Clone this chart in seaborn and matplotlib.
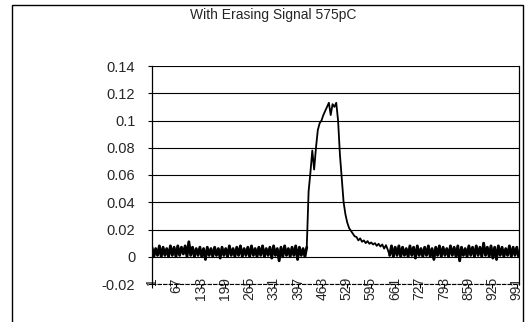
import matplotlib
matplotlib.use("Agg")
import matplotlib.pyplot as plt
import numpy as np
import seaborn as sns
from matplotlib.patches import Rectangle

# trace, one value every 5th sample (samples 1, 6, 11, ...)
baseline_before = [
    0.007, 0.000, 0.006, 0.001, 0.008, 0.000, 0.007, 0.001, 0.006, 0.000,
    0.008, 0.001, 0.007, 0.000, 0.008, 0.001, 0.007, 0.002, 0.008, 0.000,
    0.011, 0.001, 0.007, 0.000, 0.006, 0.001, 0.007, 0.000, 0.006, -0.002,
    0.007, 0.001, 0.006, 0.000, 0.007, 0.001, 0.006, -0.001, 0.007, 0.001,
    0.006, 0.000, 0.008, 0.001, 0.006, 0.000, 0.007, 0.001, 0.008, 0.000,
    0.006, 0.001, 0.007, 0.000, 0.008, 0.001, 0.006, 0.000, 0.007, 0.001,
    0.008, 0.000, 0.006, 0.001, 0.007, -0.001, 0.008, 0.001, 0.006, -0.003,
    0.007, 0.000, 0.008, 0.001, 0.006, 0.000, 0.007, 0.001, 0.008, -0.002,
    0.007, 0.001, 0.006, 0.000, 0.007,
]
pulse = [
    0.048, 0.062, 0.078, 0.064, 0.080, 0.093, 0.098, 0.100, 0.104, 0.107,
    0.110, 0.113, 0.104, 0.112, 0.110, 0.113, 0.100, 0.075, 0.058, 0.040,
    0.031, 0.025, 0.021, 0.019, 0.017, 0.015, 0.0145, 0.012, 0.0135, 0.011,
    0.012, 0.010, 0.0115, 0.0095, 0.0105, 0.009, 0.010, 0.008, 0.0095, 0.0075,
    0.009, 0.006, 0.0085, 0.005,
]
baseline_after = [
    0.001, 0.008, 0.000, 0.007, 0.001, 0.008, 0.000, 0.007, 0.001, 0.006,
    0.000, 0.008, 0.001, 0.007, -0.001, 0.008, 0.001, 0.006, 0.000, 0.007,
    0.001, 0.008, 0.000, 0.006, -0.002, 0.007, 0.001, 0.008, 0.000, 0.007,
    0.001, 0.006, 0.000, 0.008, 0.001, 0.007, 0.000, 0.008, -0.003, 0.007,
    0.001, 0.006, 0.000, 0.008, 0.001, 0.007, 0.000, 0.008, 0.001, 0.007,
    0.000, 0.010, 0.001, 0.007, 0.000, 0.008, -0.001, 0.007, -0.002, 0.008,
    0.001, 0.007, 0.000, 0.006, 0.001, 0.008, 0.000, 0.007, 0.001, 0.007,
    0.000,
]
x_ticks = [1, 67, 133, 199, 265, 331, 397, 463, 529, 595, 661, 727, 793, 859, 925, 991]
y_ticks = [-0.02, 0, 0.02, 0.04, 0.06, 0.08, 0.1, 0.12, 0.14]
y_labels = ["-0.02", "0", "0.02", "0.04", "0.06", "0.08", "0.1", "0.12", "0.14"]
title = "With Erasing Signal 575pC"

signal = np.array(baseline_before + pulse + baseline_after)
sample = np.arange(1, 5 * len(signal), 5)
n_before = len(baseline_before)
n_after = len(baseline_after)

sns.set_style("white")
plt.rcParams["font.family"] = ["Liberation Sans", "DejaVu Sans"]

W, H = 526, 322
fig = plt.figure(figsize=(W / 100, H / 100), dpi=100)
ax = fig.add_axes([152 / W, 1 - 284 / H, (519 - 152) / W, (284 - 66) / H])

sns.lineplot(x=sample, y=signal, color="black", linewidth=1.3, ax=ax)
# the noisy baseline prints as a solid black band in the scan
sns.lineplot(x=sample[:n_before], y=signal[:n_before], color="black", linewidth=2.0, ax=ax)
sns.lineplot(x=sample[-n_after:], y=signal[-n_after:], color="black", linewidth=2.0, ax=ax)

ax.set_xlim(1, 997)
ax.set_ylim(-0.02, 0.14)
ax.set_yticks(y_ticks)
ax.set_yticklabels(y_labels, fontsize=10.5)
ax.set_xticks(x_ticks)
ax.set_xticklabels([str(t) for t in x_ticks], rotation=90, fontsize=10, va="top")
ax.tick_params(axis="y", length=3, pad=9, color="black", direction="out", left=True)
ax.tick_params(axis="x", length=3, pad=-8, color="black", direction="out", bottom=True)
ax.yaxis.grid(True, color="black", linewidth=0.8)
ax.xaxis.grid(False)
for side in ["left", "right", "top"]:
    ax.spines[side].set_color("black")
    ax.spines[side].set_linewidth(0.9)
ax.spines["top"].set_visible(False)
ax.spines["bottom"].set_color("black")
ax.spines["bottom"].set_linewidth(0.8)
ax.spines["bottom"].set_linestyle((0, (3, 2)))
ax.set_xlabel("")
ax.set_ylabel("")

fig.text(273 / W, 1 - 15 / H, title, ha="center", va="center", fontsize=10)
fig.patches.append(Rectangle((12 / W, -0.1), (523 - 12) / W, 1 - 5 / H + 0.1,
                             transform=fig.transFigure, fill=False,
                             edgecolor="black", linewidth=1.0))

fig.savefig("out.png", dpi=100)
